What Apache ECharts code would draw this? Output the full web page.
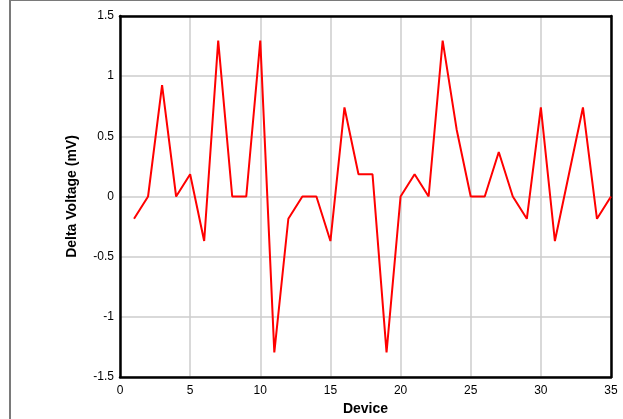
<!DOCTYPE html>
<html><head><meta charset="utf-8">
<script src="https://cdn.jsdelivr.net/npm/echarts@6/dist/echarts.min.js"></script>
<style>html,body{margin:0;padding:0;background:#fff}#c{width:623px;height:419px}</style>
</head><body><div id="c"></div>
<script>
const devices = [1,2,3,4,5,6,7,8,9,10,11,12,13,14,15,16,17,18,19,20,21,22,23,24,25,26,27,28,29,30,31,32,33,34,35];
const deltaVoltage = [-0.185,0,0.925,0,0.185,-0.37,1.295,0,0,1.295,-1.295,-0.185,0,0,-0.37,0.74,0.185,0.185,-1.295,0,0.185,0,1.295,0.555,0,0,0.37,0,-0.185,0.74,-0.37,0.185,0.74,-0.185,0];
const xTitle = 'Device';
const yTitle = 'Delta Voltage (mV)';

const chart = echarts.init(document.getElementById('c'), null, {renderer:'canvas'});
const font = 'Liberation Sans, Arial, sans-serif';
const frame = {show:true, onZero:false, lineStyle:{color:'#000', width:2.5}};
chart.setOption({
  animation:false,
  backgroundColor:'#fff',
  graphic:[
    {type:'line', shape:{x1:9, y1:0.5, x2:623, y2:0.5}, style:{stroke:'#7a7a7a', lineWidth:1}},
    {type:'line', shape:{x1:10, y1:0, x2:10, y2:419}, style:{stroke:'#7a7a7a', lineWidth:2}}
  ],
  grid:{left:120, top:16, right:12, bottom:42, outerBoundsMode:'none', containLabel:false},
  xAxis:[{
    type:'value', min:0, max:35, interval:5, position:'bottom',
    name:xTitle, nameLocation:'middle', nameGap:24,
    nameTextStyle:{fontFamily:font, fontSize:14, fontWeight:'bold', color:'#000'},
    axisLine:frame, axisTick:{show:false},
    axisLabel:{fontFamily:font, fontSize:12, color:'#000', margin:8},
    splitLine:{show:true, lineStyle:{color:'#cccccc', width:1.5}}
  },{
    type:'value', min:0, max:35, interval:5, position:'top',
    axisLine:frame, axisTick:{show:false}, axisLabel:{show:false}, splitLine:{show:false}
  }],
  yAxis:[{
    type:'value', min:-1.5, max:1.5, interval:0.5, position:'left',
    name:yTitle, nameLocation:'middle', nameGap:41, nameRotate:90,
    nameTextStyle:{fontFamily:font, fontSize:14, fontWeight:'bold', color:'#000'},
    axisLine:frame, axisTick:{show:false},
    axisLabel:{fontFamily:font, fontSize:12, color:'#000', margin:6},
    splitLine:{show:true, lineStyle:{color:'#cccccc', width:1.5}}
  },{
    type:'value', min:-1.5, max:1.5, interval:0.5, position:'right',
    axisLine:frame, axisTick:{show:false}, axisLabel:{show:false}, splitLine:{show:false}
  }],
  series:[{
    type:'line',
    data:devices.map((d,i)=>[d, deltaVoltage[i]]),
    showSymbol:false, symbol:'none',
    lineStyle:{color:'#ff0000', width:2},
    z:5
  }]
});
</script></body></html>
